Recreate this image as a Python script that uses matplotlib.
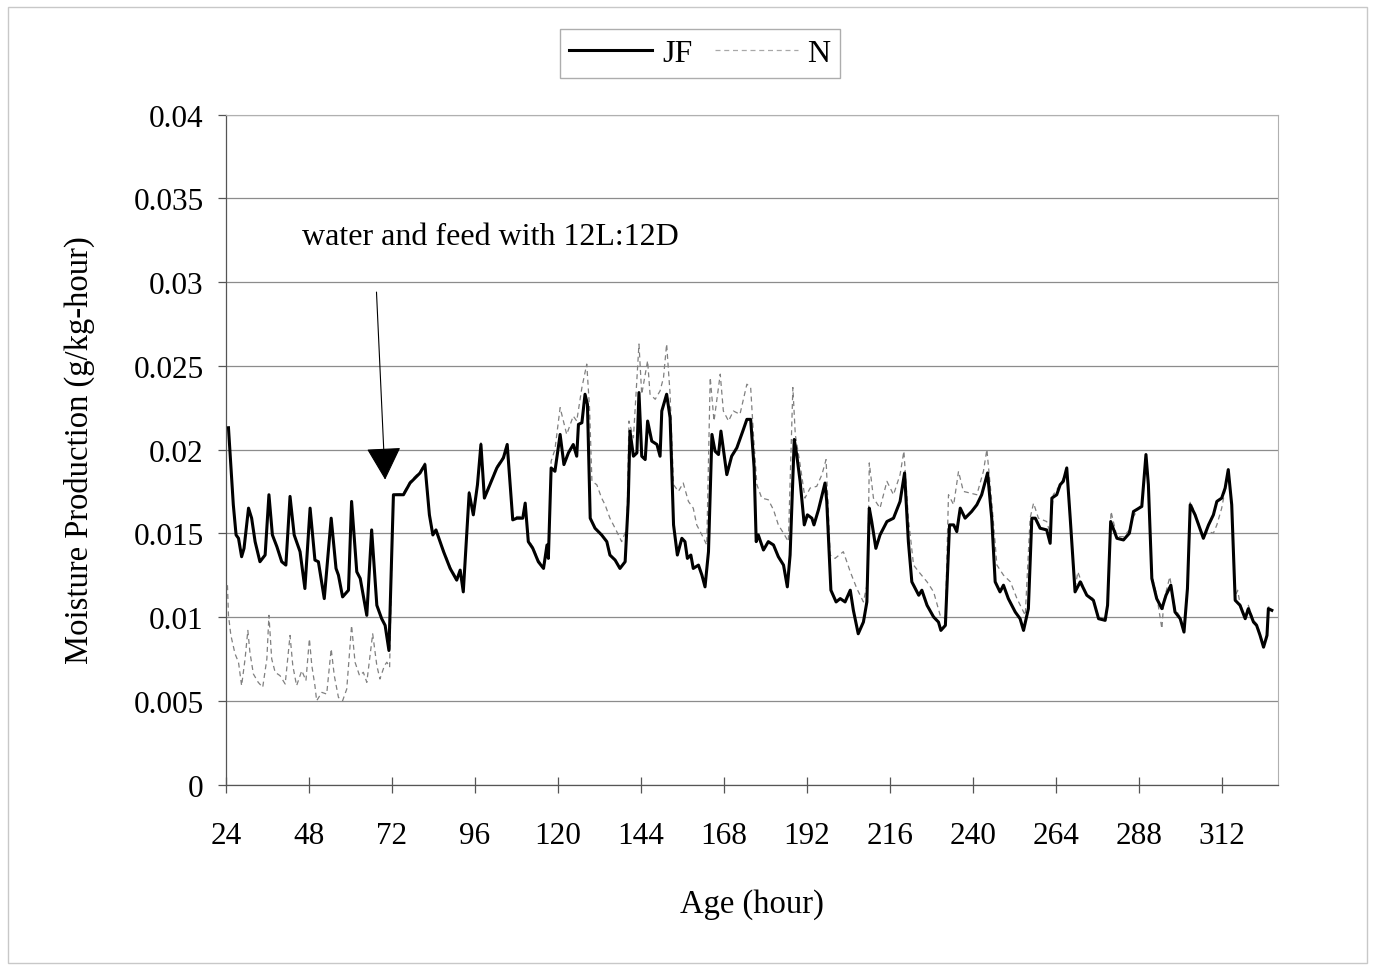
import matplotlib
matplotlib.use("Agg")
import matplotlib.pyplot as plt
from matplotlib.patches import Rectangle

plt.rcParams['font.family'] = ['Liberation Serif', 'DejaVu Serif']

# ---- data (hours, g/kg-hour) ----
jf_hour = [24.7, 26.1, 26.9, 27.6, 28.5, 29.2, 30.5, 31.4, 32.4, 33.8, 35.3, 36.4, 37.4, 38.7, 40.1, 41.3,
           42.5, 43.7, 45.4, 46.8, 48.3, 49.7, 50.7, 52.4, 54.4, 55.8, 56.5, 57.7, 59.4, 60.3, 61.8, 62.8,
           64.7, 66.1, 67.6, 69.0, 70.0, 71.1, 72.4, 75.3, 77.2, 80.1, 81.5, 82.8, 83.8, 84.7, 86.9, 88.8,
           90.7, 91.7, 92.6, 94.3, 95.5, 96.7, 97.7, 98.7, 100.3, 102.3, 104.2, 105.3, 106.9, 108.1, 109.8,
           110.5, 111.4, 112.7, 114.3, 115.8, 116.8, 117.2, 118.0, 119.1, 120.6, 121.7, 123.0, 124.4, 125.4,
           125.9, 126.9, 127.8, 128.5, 129.3, 130.7, 132.6, 134.1, 135.0, 136.5, 137.9, 139.4, 140.3, 140.8,
           141.8, 142.8, 143.4, 144.2, 145.2, 145.9, 147.1, 148.6, 149.5, 150.0, 151.4, 152.4, 153.4, 154.5,
           155.8, 156.7, 157.4, 158.4, 159.1, 160.6, 161.6, 162.5, 163.5, 164.5, 165.4, 166.4, 167.1, 168.8,
           170.2, 171.7, 173.6, 174.6, 175.7, 176.7, 177.3, 177.9, 179.4, 180.8, 182.3, 183.7, 185.2, 186.3,
           187.1, 188.3, 189.0, 190.0, 191.2, 192.1, 193.4, 194.0, 195.3, 197.2, 197.7, 198.9, 200.4, 201.6,
           203.0, 204.5, 205.4, 206.8, 208.3, 209.3, 210.0, 210.7, 211.9, 213.1, 215.1, 217.0, 218.9, 220.2,
           221.3, 222.3, 223.3, 224.3, 225.2, 226.7, 228.6, 230.0, 230.7, 232.0, 233.2, 234.4, 235.3, 236.3,
           237.7, 239.6, 241.1, 242.5, 244.2, 245.4, 246.4, 247.8, 248.8, 250.2, 252.2, 253.6, 254.6, 256.0,
           257.0, 258.0, 259.4, 261.3, 262.3, 262.8, 264.2, 265.2, 266.1, 267.1, 268.1, 269.5, 271.0, 272.9,
           274.8, 276.3, 278.2, 278.9, 279.8, 281.6, 283.5, 285.2, 286.4, 288.8, 290.0, 290.7, 291.7, 293.1,
           294.6, 295.8, 297.2, 298.4, 299.9, 301.0, 302.0, 302.8, 304.2, 306.6, 308.1, 309.5, 310.5, 311.9,
           312.9, 313.8, 314.8, 315.8, 317.2, 318.7, 319.6, 321.1, 322.0, 323.0, 324.0, 325.0, 325.4, 326.4]
jf_value = [0.0213, 0.0167, 0.0149, 0.0147, 0.0136, 0.0141, 0.0165, 0.0159, 0.0145, 0.0133, 0.0137, 0.0173,
            0.0149, 0.0142, 0.0133, 0.0131, 0.0172, 0.0149, 0.0139, 0.0117, 0.0165, 0.0134, 0.0133, 0.0111,
            0.0159, 0.0129, 0.0125, 0.0112, 0.0116, 0.0169, 0.0127, 0.0123, 0.0101, 0.0152, 0.0107, 0.0099,
            0.0095, 0.0080, 0.0173, 0.0173, 0.0180, 0.0186, 0.0191, 0.0161, 0.0149, 0.0152, 0.0139, 0.0129,
            0.0122, 0.0128, 0.0115, 0.0174, 0.0161, 0.0179, 0.0203, 0.0171, 0.0179, 0.0189, 0.0195, 0.0203,
            0.0158, 0.0159, 0.0159, 0.0168, 0.0145, 0.0141, 0.0133, 0.0129, 0.0143, 0.0135, 0.0189, 0.0187,
            0.0209, 0.0191, 0.0198, 0.0203, 0.0196, 0.0215, 0.0216, 0.0233, 0.0227, 0.0159, 0.0153, 0.0149,
            0.0145, 0.0137, 0.0134, 0.0129, 0.0133, 0.0169, 0.0211, 0.0196, 0.0198, 0.0234, 0.0196, 0.0194,
            0.0217, 0.0205, 0.0203, 0.0196, 0.0223, 0.0233, 0.0219, 0.0155, 0.0137, 0.0147, 0.0145, 0.0135,
            0.0137, 0.0129, 0.0131, 0.0125, 0.0118, 0.0139, 0.0209, 0.0199, 0.0197, 0.0211, 0.0185, 0.0196,
            0.0201, 0.0212, 0.0218, 0.0218, 0.0189, 0.0145, 0.0149, 0.0140, 0.0145, 0.0143, 0.0136, 0.0131,
            0.0118, 0.0137, 0.0206, 0.0197, 0.0181, 0.0155, 0.0161, 0.0159, 0.0155, 0.0164, 0.0180, 0.0169,
            0.0116, 0.0109, 0.0111, 0.0109, 0.0116, 0.0104, 0.0090, 0.0097, 0.0109, 0.0165, 0.0157, 0.0141,
            0.0149, 0.0157, 0.0159, 0.0169, 0.0186, 0.0145, 0.0121, 0.0117, 0.0113, 0.0116, 0.0107, 0.0100,
            0.0097, 0.0092, 0.0095, 0.0155, 0.0155, 0.0151, 0.0165, 0.0159, 0.0163, 0.0167, 0.0173, 0.0186,
            0.0159, 0.0121, 0.0115, 0.0119, 0.0111, 0.0103, 0.0099, 0.0092, 0.0105, 0.0159, 0.0159, 0.0153,
            0.0152, 0.0144, 0.0171, 0.0173, 0.0179, 0.0181, 0.0189, 0.0159, 0.0115, 0.0121, 0.0113, 0.0110,
            0.0099, 0.0098, 0.0107, 0.0157, 0.0147, 0.0146, 0.0150, 0.0163, 0.0166, 0.0197, 0.0179, 0.0123,
            0.0111, 0.0105, 0.0113, 0.0119, 0.0103, 0.0099, 0.0091, 0.0117, 0.0167, 0.0161, 0.0147, 0.0155,
            0.0161, 0.0169, 0.0171, 0.0177, 0.0188, 0.0167, 0.0110, 0.0107, 0.0099, 0.0105, 0.0097, 0.0095,
            0.0089, 0.0082, 0.0089, 0.0105, 0.0104]

n_hour = [24.4, 24.7, 25.4, 26.6, 27.6, 28.5, 29.5, 30.3, 30.9, 31.9, 33.3, 34.6, 35.8, 36.4, 37.2, 38.2,
          39.6, 41.1, 42.0, 42.5, 43.3, 44.4, 45.9, 47.1, 48.1, 48.8, 49.7, 50.2, 51.7, 53.1, 54.4, 55.3,
          56.5, 57.7, 58.9, 60.3, 61.3, 62.6, 63.7, 64.7, 66.4, 67.6, 68.5, 69.8, 70.5, 71.3, 72.3,
          75.3, 77.2, 80.1, 81.5, 82.8, 83.8, 84.7, 86.9, 88.8, 90.7, 91.7, 92.6, 94.3, 95.5, 96.7, 97.7,
          98.7, 100.3, 102.3, 104.2, 105.3, 106.9, 108.1, 109.8, 110.5, 111.4, 112.7, 114.3, 115.8, 116.8,
          117.2, 118.0, 119.1, 120.6, 122.5, 124.4, 125.4, 126.9, 128.3, 129.1, 129.8, 131.2, 132.6, 133.6,
          135.0, 136.5, 138.4, 139.9, 140.5, 141.8, 143.4, 144.2, 145.9, 146.6, 148.1, 149.5, 150.5, 151.4,
          152.4, 153.4, 154.8, 156.2, 157.7, 159.1, 160.1, 161.6, 163.0, 164.0, 165.1, 166.9, 167.8, 169.3,
          170.7, 172.6, 174.6, 175.7, 176.5, 177.5, 178.9, 180.8, 182.3, 183.7, 185.2, 186.6, 187.9, 188.6,
          190.0, 191.4, 192.9, 194.8, 196.3, 197.5, 198.7, 200.1, 202.5, 204.5, 206.4, 208.3, 209.5, 210.0,
          211.2, 213.1, 215.1, 217.0, 218.9, 220.0, 221.3, 222.8, 224.7, 226.7, 228.6, 230.5, 232.0, 232.9,
          234.4, 235.8, 237.2, 239.2, 241.1, 243.0, 244.0, 245.4, 246.9, 248.8, 250.8, 252.7, 255.1, 256.5,
          257.5, 258.9, 261.3, 262.3, 263.2, 265.2, 266.6, 267.1, 268.1, 269.5, 270.3, 271.0, 272.9, 274.8,
          276.3, 278.2, 278.9, 279.9, 281.6, 283.5, 285.2, 286.4, 288.8, 290.0, 290.7, 291.7, 293.1, 294.6,
          295.2, 296.9, 298.4, 299.9, 301.0, 302.0, 302.8, 304.2, 306.6, 308.1, 309.5, 310.5, 311.9, 312.9,
          313.8, 314.8, 315.8, 316.5, 317.2, 318.7, 319.6, 321.1, 322.0, 323.0, 324.0, 325.0, 325.4, 326.4]
n_value = [0.0119, 0.0101, 0.0089, 0.0078, 0.0073, 0.0059, 0.0075, 0.0092, 0.0079, 0.0066, 0.0061, 0.0058,
           0.0075, 0.0101, 0.0075, 0.0067, 0.0065, 0.0060, 0.0079, 0.0089, 0.0071, 0.0059, 0.0068, 0.0062,
           0.0087, 0.0071, 0.0059, 0.0050, 0.0055, 0.0054, 0.0081, 0.0065, 0.0052, 0.0050, 0.0057, 0.0095,
           0.0073, 0.0065, 0.0067, 0.0061, 0.0090, 0.0071, 0.0063, 0.0071, 0.0073, 0.0070, 0.0173,
           0.0174, 0.0181, 0.0187, 0.0192, 0.0162, 0.0150, 0.0152, 0.0140, 0.0130, 0.0123, 0.0128, 0.0116,
           0.0175, 0.0162, 0.0180, 0.0204, 0.0172, 0.0180, 0.0190, 0.0196, 0.0204, 0.0159, 0.0160, 0.0160,
           0.0168, 0.0146, 0.0142, 0.0134, 0.0130, 0.0144, 0.0136, 0.0193, 0.0200, 0.0225, 0.0209, 0.0220,
           0.0217, 0.0237, 0.0251, 0.0225, 0.0181, 0.0179, 0.0171, 0.0167, 0.0159, 0.0153, 0.0145, 0.0153,
           0.0217, 0.0207, 0.0263, 0.0233, 0.0253, 0.0233, 0.0230, 0.0235, 0.0243, 0.0263, 0.0233, 0.0179,
           0.0175, 0.0180, 0.0169, 0.0165, 0.0155, 0.0149, 0.0143, 0.0243, 0.0217, 0.0245, 0.0223, 0.0217,
           0.0223, 0.0221, 0.0239, 0.0237, 0.0209, 0.0179, 0.0171, 0.0170, 0.0164, 0.0155, 0.0150, 0.0145,
           0.0237, 0.0209, 0.0191, 0.0171, 0.0177, 0.0178, 0.0185, 0.0194, 0.0137, 0.0135, 0.0139, 0.0127,
           0.0117, 0.0109, 0.0121, 0.0192, 0.0171, 0.0165, 0.0181, 0.0173, 0.0185, 0.0199, 0.0159, 0.0131,
           0.0126, 0.0121, 0.0115, 0.0101, 0.0099, 0.0173, 0.0167, 0.0187, 0.0175, 0.0174, 0.0173, 0.0187,
           0.0200, 0.0169, 0.0131, 0.0125, 0.0121, 0.0111, 0.0101, 0.0159, 0.0168, 0.0159, 0.0157, 0.0150,
           0.0173, 0.0179, 0.0185, 0.0190, 0.0160, 0.0117, 0.0127, 0.0123, 0.0113, 0.0111, 0.0100, 0.0099,
           0.0108, 0.0163, 0.0148, 0.0148, 0.0152, 0.0160, 0.0168, 0.0195, 0.0180, 0.0125, 0.0113, 0.0093,
           0.0110, 0.0124, 0.0105, 0.0100, 0.0093, 0.0118, 0.0169, 0.0162, 0.0148, 0.0151, 0.0150, 0.0155,
           0.0165, 0.0176, 0.0186, 0.0167, 0.0112, 0.0116, 0.0108, 0.0100, 0.0107, 0.0098, 0.0096, 0.0090,
           0.0083, 0.0090, 0.0106, 0.0106]

x_ticks = [24, 48, 72, 96, 120, 144, 168, 192, 216, 240, 264, 288, 312]
y_ticks = [0, 0.005, 0.01, 0.015, 0.02, 0.025, 0.03, 0.035, 0.04]
y_tick_labels = ['0', '0.005', '0.01', '0.015', '0.02', '0.025', '0.03', '0.035', '0.04']
series_names = ['JF', 'N']
annotation_text = 'water and feed with 12L:12D'
annotation_tip = (70.0, 0.0182)
annotation_text_pos = (67.5, 0.0294)

fig = plt.figure(figsize=(13.75, 9.7), dpi=100)
fig.patches.append(Rectangle((0.006, 0.006), 0.988, 0.986, transform=fig.transFigure,
                             fill=False, edgecolor='#c8c8c8', lw=1.0))
ax = fig.add_axes([0.1644, 0.1902, 0.7651, 0.6907])

ax.plot(n_hour, n_value, color='#808080', lw=0.9, ls=(0, (4, 3)), label=series_names[1], zorder=3)
ax.plot(jf_hour, jf_value, color='black', lw=2.2, label=series_names[0], zorder=4)

ax.set_xlim(24, 328.2)
ax.set_ylim(0, 0.04)
ax.set_xticks(x_ticks)
ax.set_xticklabels([str(t) for t in x_ticks])
ax.set_yticks(y_ticks)
ax.set_yticklabels(y_tick_labels)
ax.grid(axis='y', color='#8c8c8c', lw=0.9)
ax.set_axisbelow(True)

for s in ['top', 'right']:
    ax.spines[s].set_color('#b0b0b0')
    ax.spines[s].set_linewidth(0.8)
ax.spines['left'].set_color('#555555')
ax.spines['bottom'].set_color('#555555')
ax.spines['left'].set_linewidth(0.9)
ax.spines['bottom'].set_linewidth(0.9)

ax.tick_params(axis='x', direction='inout', length=12, width=0.9, color='#555555', labelsize=22.5, pad=20)
ax.tick_params(axis='y', direction='out', length=6, width=0.9, color='#555555', labelsize=22.5, pad=10)

ax.set_xlabel('Age (hour)', fontsize=23.5, labelpad=28)
ax.set_ylabel('Moisture Production (g/kg-hour)', fontsize=23.5, labelpad=28)

ax.annotate(annotation_text, xy=annotation_tip, xytext=(46.0, 0.0327),
            fontsize=23, ha='left', va='center', annotation_clip=False)
ax.annotate('', xy=annotation_tip, xytext=annotation_text_pos,
            arrowprops=dict(arrowstyle='-|>,head_length=1.5,head_width=0.8', color='black',
                            lw=0.8, shrinkA=0, shrinkB=0, mutation_scale=14))

leg = fig.legend(handles=ax.get_lines()[::-1], labels=series_names, loc='center',
                 bbox_to_anchor=(0.509, 0.944), ncol=2, frameon=True, fancybox=False,
                 fontsize=23, handlelength=2.6, handletextpad=0.3, columnspacing=0.7,
                 borderpad=0.3)
leg.get_lines()[1].set_color('#a8a8a8')
leg.get_frame().set_edgecolor('#999999')
leg.get_frame().set_linewidth(1.0)

fig.savefig('out.png', dpi=100)
